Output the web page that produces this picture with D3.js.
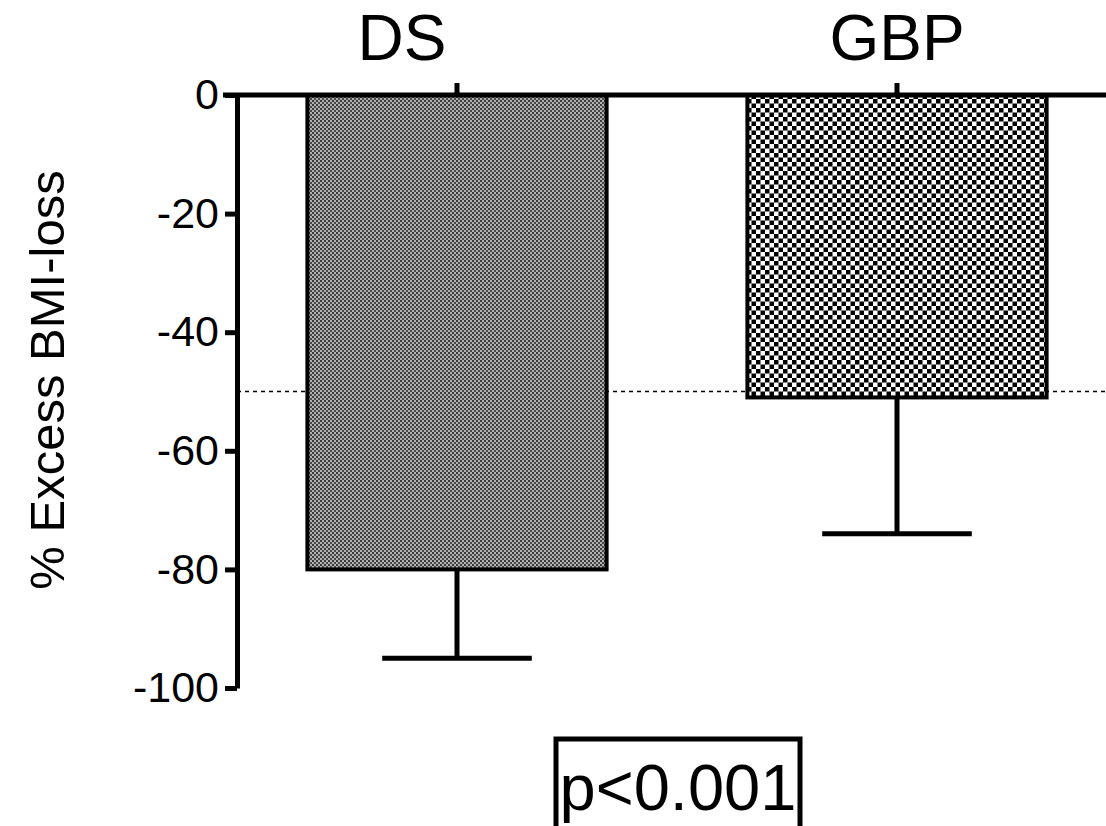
<!DOCTYPE html>
<html>
<head>
<meta charset="utf-8">
<script src="https://cdn.jsdelivr.net/npm/d3@7"></script>
<style>
  html, body { margin: 0; padding: 0; background: #fff; }
  svg { display: block; font-family: "Liberation Sans", Arial, sans-serif; }
</style>
</head>
<body>
<div id="chart"></div>
<script>
// data
const groups = ["DS", "GBP"];
const means = [-80, -51];
const errLow = [-95, -74];
const yTicks = [0, -20, -40, -60, -80, -100];
const refLine = -50;
const pLabel = "p<0.001";

function init() {
    const width = 1106;
    const height = 826;

    const svg = d3.select("#chart")
        .append("svg")
        .attr("width", width)
        .attr("height", height);

    const defs = svg.append("defs");

    // fine grey checker for DS
    const p1 = defs.append("pattern")
        .attr("id", "patDS")
        .attr("width", 4).attr("height", 4)
        .attr("patternUnits", "userSpaceOnUse");
    p1.append("rect").attr("width", 4).attr("height", 4).attr("fill", "#b0b0b0");
    p1.append("rect").attr("width", 2).attr("height", 2).attr("fill", "#3a3a3a");
    p1.append("rect").attr("x", 2).attr("y", 2).attr("width", 2).attr("height", 2).attr("fill", "#4a4a4a");

    // coarse black/white checker for GBP
    const p2 = defs.append("pattern")
        .attr("id", "patGBP")
        .attr("width", 9).attr("height", 9)
        .attr("patternUnits", "userSpaceOnUse");
    p2.append("rect").attr("width", 9).attr("height", 9).attr("fill", "#fff");
    p2.append("rect").attr("width", 4.5).attr("height", 4.5).attr("fill", "#000");
    p2.append("rect").attr("x", 4.5).attr("y", 4.5).attr("width", 4.5).attr("height", 4.5).attr("fill", "#000");

    const fills = ["url(#patDS)", "url(#patGBP)"];

    const x = d3.scaleBand()
        .domain(groups)
        .range([237, 1117])
        .paddingInner(0.32)
        .paddingOuter(0.16);

    const y = d3.scaleLinear()
        .domain([-100, 0])
        .range([688, 95]);

    // reference line at -50
    svg.append("line")
        .attr("x1", 237).attr("x2", width)
        .attr("y1", y(refLine)).attr("y2", y(refLine))
        .attr("stroke", "#000")
        .attr("stroke-width", 1.5)
        .attr("stroke-dasharray", "4,4");

    // error bars (drawn first so the bar border sits on top)
    groups.forEach(function (g, i) {
        const cx = x(g) + x.bandwidth() / 2;
        svg.append("line")
            .attr("x1", cx).attr("x2", cx)
            .attr("y1", y(means[i])).attr("y2", y(errLow[i]))
            .attr("stroke", "#000").attr("stroke-width", 5);
        svg.append("line")
            .attr("x1", cx - x.bandwidth() / 4).attr("x2", cx + x.bandwidth() / 4)
            .attr("y1", y(errLow[i])).attr("y2", y(errLow[i]))
            .attr("stroke", "#000").attr("stroke-width", 5);
    });

    // bars
    svg.selectAll("rect.bar")
        .data(groups)
        .enter()
        .append("rect")
        .attr("class", "bar")
        .attr("x", d => x(d))
        .attr("y", y(0))
        .attr("width", x.bandwidth())
        .attr("height", (d, i) => y(means[i]) - y(0))
        .attr("fill", (d, i) => fills[i])
        .attr("stroke", "#000")
        .attr("stroke-width", 4);

    // left axis
    const yAxis = svg.append("g")
        .attr("transform", "translate(237,0)")
        .call(d3.axisLeft(y).tickValues(yTicks).tickSize(12).tickPadding(6)
            .tickSizeOuter(0).tickFormat(d => String(d)));
    yAxis.attr("font-size", null).attr("font-family", null);
    yAxis.select(".domain").attr("stroke-width", 5);
    yAxis.selectAll(".tick line").attr("stroke-width", 5);
    yAxis.selectAll(".tick text")
        .style("font-size", "43px")
        .attr("fill", "#000");

    // top axis at zero with category ticks
    const xAxis = svg.append("g")
        .attr("transform", "translate(0," + y(0) + ")")
        .call(d3.axisTop(x).tickSize(12).tickSizeOuter(0).tickFormat(""));
    xAxis.select(".domain").attr("d", "M223,0H" + width).attr("stroke-width", 5);
    xAxis.selectAll(".tick line").attr("stroke-width", 5);

    // category labels
    const labelShift = [-55, 0];
    svg.selectAll("text.cat")
        .data(groups)
        .enter()
        .append("text")
        .attr("class", "cat")
        .attr("x", (d, i) => x(d) + x.bandwidth() / 2 + labelShift[i])
        .attr("y", 60)
        .attr("text-anchor", "middle")
        .attr("font-size", 64)
        .text(d => d);

    // y axis title
    svg.append("text")
        .attr("transform", "translate(64," + 380 + ") rotate(-90)")
        .attr("text-anchor", "middle")
        .attr("font-size", 49)
        .text("% Excess BMI-loss");

    // p-value box
    svg.append("rect")
        .attr("x", 556).attr("y", 739)
        .attr("width", 244).attr("height", 100)
        .attr("fill", "#fff")
        .attr("stroke", "#000")
        .attr("stroke-width", 5);
    svg.append("text")
        .attr("x", 678)
        .attr("y", 810)
        .attr("text-anchor", "middle")
        .attr("font-size", 65)
        .text(pLabel);
}

window.onload = init;
</script>
</body>
</html>
